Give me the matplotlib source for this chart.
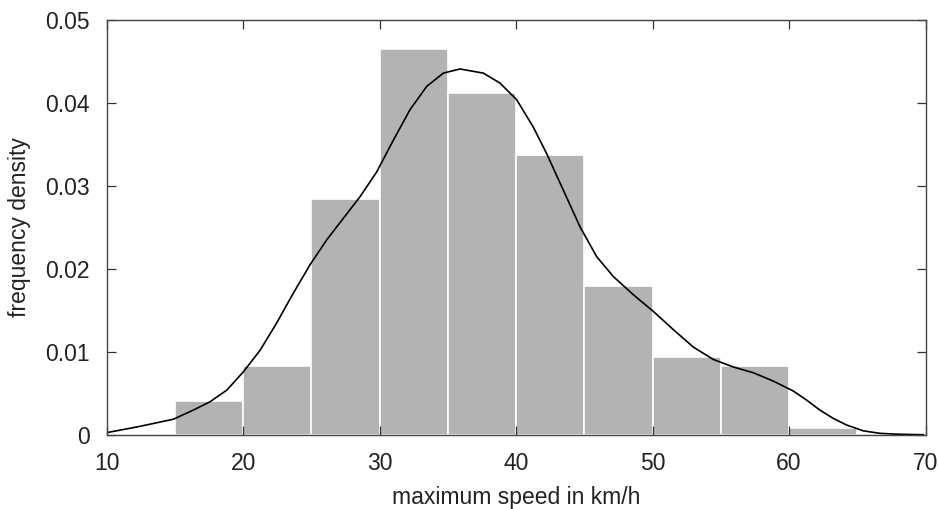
import numpy as np
import matplotlib
matplotlib.use('Agg')
import matplotlib.pyplot as plt

plt.rcParams['font.family'] = ['Liberation Sans', 'DejaVu Sans']

# histogram bins (km/h) and frequency densities
bin_left = [15, 20, 25, 30, 35, 40, 45, 50, 55, 60]
bin_width = 5
density = [0.0041, 0.0083, 0.0284, 0.0465, 0.0412, 0.0337, 0.0179, 0.0094, 0.0083, 0.0009]

# density curve
curve_x = [10.0, 12.32, 14.89, 16.35, 17.57, 18.80, 20.01, 21.24, 22.46, 23.68, 24.90,
           26.12, 27.34, 28.56, 29.79, 31.0, 32.23, 33.45, 34.67, 35.89, 37.60, 38.82,
           40.04, 41.26, 42.24, 43.46, 44.68, 45.90, 47.12, 48.59, 50.05, 51.52, 52.98,
           54.45, 55.91, 57.38, 58.84, 60.31, 61.29, 62.26, 63.24, 64.22, 65.44, 66.66,
           67.88, 69.83]
curve_y = [0.00028, 0.0010, 0.0019, 0.0030, 0.0040, 0.0054, 0.0076, 0.0102, 0.0135, 0.0171,
           0.0205, 0.0235, 0.0261, 0.0287, 0.0317, 0.0355, 0.0392, 0.0420, 0.0436, 0.0441,
           0.0436, 0.0424, 0.0404, 0.0371, 0.0339, 0.0295, 0.0251, 0.0215, 0.0191, 0.0169,
           0.0149, 0.0127, 0.0106, 0.0091, 0.0082, 0.0075, 0.0065, 0.0053, 0.0042, 0.0030,
           0.0020, 0.0012, 0.0005, 0.0002, 0.0001, 0.00003]

txt = '#222222'
fig = plt.figure(figsize=(9.38, 5.09), dpi=100)
ax = fig.add_axes([0.1137, 0.1454, 0.8730, 0.8153])

ax.bar(bin_left, density, width=bin_width, align='edge', color='#b3b3b3',
       edgecolor='white', linewidth=1.2, zorder=1)
ax.plot(curve_x, curve_y, color='black', lw=1.2, zorder=3, solid_joinstyle='round')

ax.set_xlim(10, 70)
ax.set_ylim(0, 0.05)
ax.set_xticks(range(10, 71, 10))
ax.set_yticks([0, 0.01, 0.02, 0.03, 0.04, 0.05])
ax.set_yticklabels(['0', '0.01', '0.02', '0.03', '0.04', '0.05'])

ax.tick_params(direction='in', top=True, right=True, length=6.5, width=0.9,
               color='#333333', labelsize=16.5, labelcolor=txt, pad=12)
for s in ax.spines.values():
    s.set_color('#444444')
    s.set_linewidth(1.0)
    s.set_zorder(4)
ax.set_axisbelow(False)

ax.set_xlabel('maximum speed in km/h', fontsize=16.5, color=txt, labelpad=8)
ax.set_ylabel('frequency density', fontsize=16.5, color=txt, labelpad=10)

fig.savefig('out.png', dpi=100)
